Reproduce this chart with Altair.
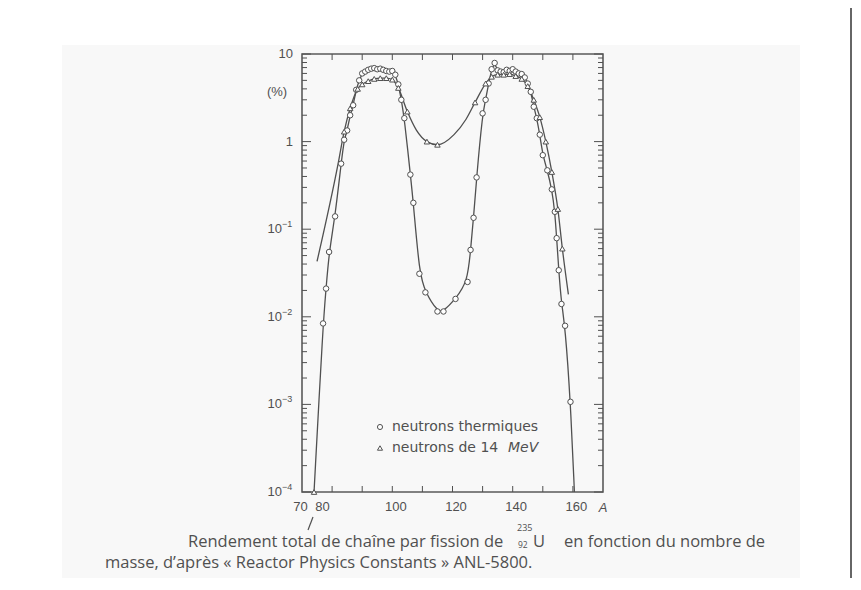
import altair as alt
import pandas as pd

# ---------------- data ----------------
# thermal neutrons (circles)
thermal_A = [77, 78, 79, 81, 83, 84, 85, 86, 87, 88, 89, 90, 91, 92, 93, 94, 95, 96, 97, 98,
             99, 100, 101, 102, 103, 104, 106, 107, 109, 111, 115, 117, 121, 125, 126, 127, 128,
             130, 131, 132, 133, 134, 135, 136, 137, 138, 139, 140, 141, 142, 143, 144, 145, 146,
             147, 148, 149, 150, 151.5, 153, 154, 154.6, 155.3, 156.2, 157.4, 159.2]
thermal_Y = [0.0084, 0.021, 0.055, 0.14, 0.56, 1.05, 1.34, 2.0, 2.6, 3.9, 5.0, 6.0, 6.3, 6.6, 6.8,
             6.9, 6.7, 6.8, 6.6, 6.4, 6.3, 6.4, 5.8, 4.5, 3.0, 1.85, 0.42, 0.2, 0.031, 0.019, 0.0115,
             0.0115, 0.016, 0.025, 0.058, 0.135, 0.39, 2.1, 3.0, 4.6, 6.7, 7.9, 6.5, 6.3, 6.2, 6.6,
             6.4, 6.7, 6.3, 6.0, 5.9, 5.4, 4.6, 3.7, 2.5, 1.85, 1.2, 0.7, 0.47, 0.285, 0.158, 0.079,
             0.034, 0.014, 0.0079, 0.00107]
thermal_end_A = [74, 160.5]
thermal_end_Y = [0.0001, 0.0001]

# 14 MeV neutrons (triangles)
mev_A = [84, 86, 88.5, 90, 92, 94, 96, 98, 100, 102, 105, 111.5, 115, 127.5, 131, 133, 135, 137,
         139, 141, 143, 145, 147, 149, 151, 153, 155, 156.5]
mev_Y = [1.3, 2.4, 4.0, 4.5, 4.9, 5.2, 5.3, 5.3, 5.1, 4.1, 2.2, 1.0, 0.92, 2.8, 4.6, 5.5, 5.8, 5.8,
         5.9, 5.6, 5.2, 4.3, 3.0, 1.9, 1.0, 0.45, 0.17, 0.06]
mev_curve_A = [75, 82, 108, 120.5, 124.5, 158.5]
mev_curve_Y = [0.043, 0.56, 1.35, 1.2, 1.8, 0.018]

bottom_mark_A = [74]
bottom_mark_Y = [0.0001]

x_tick_values = [80, 90, 100, 110, 120, 130, 140, 150, 160]
x_label_values = [70, 80, 100, 120, 140, 160]
y_plain_values = [10, 1]
y_plain_text = ["10", "1"]
y_exp_values = [0.1, 0.01, 0.001, 0.0001]
y_exp_text = ["−1", "−2", "−3", "−4"]
y_decades = [0.0001, 0.001, 0.01, 0.1, 1, 10]
y_mantissas = [2, 3, 4, 5, 6, 7, 8, 9]

# ---------------- style ----------------
W, H = 301, 438
INK = "#505050"
FONT = "Liberation Sans"

xs = alt.Scale(domain=[70, 170], nice=False, zero=False)
ys = alt.Scale(type="log", domain=[0.0001, 10], nice=False)

x_axis = alt.Axis(values=x_label_values, ticks=False, domain=False, grid=False,
                  labelPadding=8, labelFontSize=13, labelFont=FONT, labelColor=INK,
                  labelFlush=False, labelOverlap=False, zindex=2,
                  labelOffset={"condition": [{"test": "datum.value == 80", "value": -10},
                                             {"test": "datum.value == 70", "value": -2}],
                               "value": 3},
                  title=None)

X = alt.X("A:Q", scale=xs, axis=x_axis)
Y = alt.Y("Y:Q", scale=ys, axis=None)

one = pd.DataFrame({"k": [0]})


def label(text, rx, ry, size=13, font=FONT, align="left", style="normal", baseline="middle"):
    return alt.Chart(one).mark_text(text=text, align=align, baseline=baseline, font=font,
                                    fontSize=size, fontStyle=style, color=INK).encode(
        x=alt.value(rx), y=alt.value(ry))


thermal_line_df = pd.DataFrame({"A": thermal_A + thermal_end_A, "Y": thermal_Y + thermal_end_Y})
thermal_df = pd.DataFrame({"A": thermal_A, "Y": thermal_Y})
mev_line_df = pd.DataFrame({"A": mev_A + mev_curve_A, "Y": mev_Y + mev_curve_Y})
mev_df = pd.DataFrame({"A": mev_A, "Y": mev_Y})
bottom_df = pd.DataFrame({"A": bottom_mark_A, "Y": bottom_mark_Y})

minor_vals = [m * d for d in y_decades[:-1] for m in y_mantissas]
ymin_df = pd.DataFrame({"Y": minor_vals})
ymaj_df = pd.DataFrame({"Y": y_decades})
xt_df = pd.DataFrame({"A": x_tick_values})
yplain_df = pd.DataFrame({"Y": y_plain_values, "t": y_plain_text})
yexp_df = pd.DataFrame({"Y": y_exp_values, "t": y_exp_text})

layers = []
# scanned page panel + page border
layers.append(alt.Chart(one).mark_rect(color="#f8f8f8").encode(
    x=alt.value(-240), x2=alt.value(498), y=alt.value(-9), y2=alt.value(540)))
layers.append(alt.Chart(one).mark_rule(color="#333333", strokeWidth=1.5).encode(
    x=alt.value(549), y=alt.value(-46), y2=alt.value(540)))
# plot frame
layers.append(alt.Chart(one).mark_rect(filled=False, color="#5a5a5a", strokeWidth=1.6).encode(
    x=alt.value(0), x2=alt.value(W), y=alt.value(0), y2=alt.value(H)))

# curves
layers.append(alt.Chart(thermal_line_df).mark_line(interpolate="basis", color=INK, strokeWidth=1.3)
              .encode(x=X, y=Y))
layers.append(alt.Chart(mev_line_df).mark_line(interpolate="monotone", color=INK, strokeWidth=1.3)
              .encode(x=X, y=Y))

# inward ticks
layers.append(alt.Chart(ymin_df).mark_rule(color=INK, strokeWidth=1).encode(
    y=Y, x=alt.value(0), x2=alt.value(5)))
layers.append(alt.Chart(ymaj_df).mark_rule(color=INK, strokeWidth=1).encode(
    y=Y, x=alt.value(0), x2=alt.value(9)))
layers.append(alt.Chart(ymin_df).mark_rule(color=INK, strokeWidth=1).encode(
    y=Y, x=alt.value(W - 5), x2=alt.value(W)))
layers.append(alt.Chart(ymaj_df).mark_rule(color=INK, strokeWidth=1).encode(
    y=Y, x=alt.value(W - 9), x2=alt.value(W)))
layers.append(alt.Chart(xt_df).mark_rule(color=INK, strokeWidth=1).encode(
    x=X, y=alt.value(0), y2=alt.value(6)))
layers.append(alt.Chart(xt_df).mark_rule(color=INK, strokeWidth=1).encode(
    x=X, y=alt.value(H - 6), y2=alt.value(H)))

# y tick labels (10, 1, 10^-1 ... 10^-4)
layers.append(alt.Chart(yplain_df).mark_text(align="right", baseline="middle", font=FONT,
                                             fontSize=13, color=INK).encode(
    y=Y, x=alt.value(-9), text="t:N"))
layers.append(alt.Chart(yexp_df).mark_text(text="10", align="right", baseline="middle", font=FONT,
                                           fontSize=13, color=INK).encode(
    y=Y, x=alt.value(-20)))
layers.append(alt.Chart(yexp_df).mark_text(align="left", baseline="middle", font=FONT,
                                           fontSize=9, color=INK, dy=-5).encode(
    y=Y, x=alt.value(-20), text="t:N"))

# markers
layers.append(alt.Chart(thermal_df).mark_point(shape="circle", filled=True, fill="white", stroke=INK,
                                               strokeWidth=1, size=30, opacity=1).encode(x=X, y=Y))
layers.append(alt.Chart(mev_df).mark_point(shape="triangle-up", filled=True, fill="white", stroke=INK,
                                           strokeWidth=1, size=30, opacity=1).encode(x=X, y=Y))
layers.append(alt.Chart(bottom_df).mark_point(shape="triangle-up", filled=True, fill="white", stroke=INK,
                                              strokeWidth=1, size=30, opacity=1).encode(x=X, y=Y))

# axis extras
layers.append(label("(%)", -25, 38, align="center"))
layers.append(label("A", 301, 454, style="italic", align="center"))
layers.append(alt.Chart(one).mark_rule(color=INK, strokeWidth=1.2).encode(
    x=alt.value(6), x2=alt.value(11), y=alt.value(476), y2=alt.value(463)))

# legend
layers.append(alt.Chart(one).mark_point(shape="circle", filled=True, fill="white", stroke=INK,
                                        strokeWidth=1, size=26, opacity=1).encode(
    x=alt.value(78), y=alt.value(373)))
layers.append(alt.Chart(one).mark_point(shape="triangle-up", filled=True, fill="white", stroke=INK,
                                        strokeWidth=1, size=26, opacity=1).encode(
    x=alt.value(78), y=alt.value(394)))
layers.append(label("neutrons thermiques", 90, 373, size=14, font="DejaVu Sans"))
layers.append(label("neutrons de 14", 90, 394, size=14, font="DejaVu Sans"))
layers.append(label("MeV", 206, 394, size=14, font="DejaVu Sans", style="italic"))

# caption
CAP = "Open Sans"
layers.append(label("Rendement total de chaîne par fission de", -114, 488, size=16.5, font=CAP))
layers.append(label("235", 215, 474, size=9, font=CAP))
layers.append(label("92", 216, 491, size=8.5, font=CAP))
layers.append(label("U", 231, 488, size=16.5, font=CAP))
layers.append(label("en fonction du nombre de", 262, 488, size=16.5, font=CAP))
layers.append(label("masse, d’après « Reactor Physics Constants » ANL-5800.", -197, 509, size=16.5, font=CAP))

chart = alt.layer(*layers).properties(
    width=W, height=H,
    autosize=alt.AutoSizeParams(type="none"),
    padding={"left": 294, "top": 46, "right": 250, "bottom": 86},
    background="white",
).configure_view(stroke=None)

chart.save("out.html", embed_options={"renderer": "svg", "actions": False})
